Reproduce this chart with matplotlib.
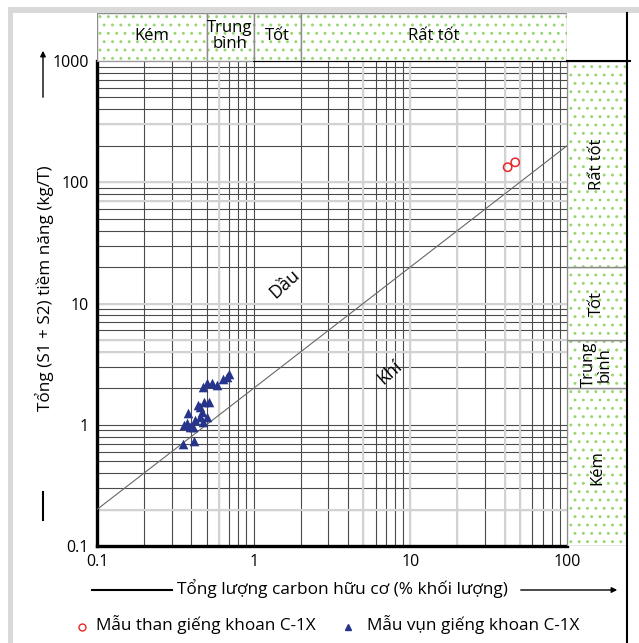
import numpy as np
import matplotlib.pyplot as plt
from matplotlib.patches import Rectangle
from matplotlib.lines import Line2D

plt.rcParams['font.family'] = ['Open Sans', 'DejaVu Sans']
plt.rcParams['hatch.linewidth'] = 0.9

# sample data (TOC %wt, S1+S2 kg/T)
coal_toc = [41.8, 46.7]
coal_s = [133, 146]

cut_toc = [0.356, 0.418, 0.373, 0.392, 0.379, 0.422, 0.454, 0.466, 0.454, 0.482,
           0.521, 0.441, 0.477, 0.501, 0.540, 0.586, 0.634, 0.673, 0.692,
           0.361, 0.412, 0.477, 0.501]
cut_s = [0.70, 0.735, 1.03, 0.964, 1.26, 1.094, 1.165, 1.28, 1.41, 1.55,
         1.55, 1.455, 2.06, 2.20, 2.20, 2.12, 2.37, 2.49, 2.61,
         0.995, 0.964, 1.06, 1.165]

# classification bands
toc_edges = [0.1, 0.5, 1, 2, 100]
toc_names = ['Kém', 'Trung\nbình', 'Tốt', 'Rất tốt']
pot_edges = [0.1, 2, 5, 20, 1000]
pot_names = ['Kém', 'Trung\nbình', 'Tốt', 'Rất tốt']

# oil / gas boundary line  S = 2 * TOC
line_toc = [0.1, 100]
line_s = [0.2, 200]

light_x = [0.6, 5, 10, 20, 40, 50]
light_y = [0.2, 4, 5, 10, 70, 100, 300]

W, H = 639, 643
fig = plt.figure(figsize=(W / 100, H / 100), dpi=100)

def box(x0, y0, x1, y1):
    # pixel box (top-left origin) -> figure fraction rect
    return [x0 / W, 1 - y1 / H, (x1 - x0) / W, (y1 - y0) / H]

def band(axb, xy, w, h):
    # dotted green fill + grey outline
    axb.add_patch(Rectangle(xy, w, h, facecolor='white', edgecolor='#97d672',
                            hatch='..', lw=0))
    axb.add_patch(Rectangle(xy, w, h, facecolor='none', edgecolor='#8c8c8c', lw=1.0))

ax = fig.add_axes(box(97, 61, 567, 546))
ax.set_xscale('log')
ax.set_yscale('log')
ax.set_xlim(0.1, 100)
ax.set_ylim(0.1, 1000)
ax.grid(which='both', color='#4a4a4a', lw=0.8)
for v in light_x:
    ax.axvline(v, color='#d2d2d2', lw=1.5, zorder=1)
for v in light_y:
    ax.axhline(v, color='#d2d2d2', lw=1.5, zorder=1)
ax.set_axisbelow(True)
ax.set_xticks([0.1, 1, 10, 100], ['0.1', '1', '10', '100'])
ax.set_yticks([0.1, 1, 10, 100, 1000], ['0.1', '1', '10', '100', '1000'])
ax.minorticks_on()
ax.tick_params(which='both', length=0, labelsize=11.5, pad=6)
ax.xaxis.set_minor_formatter(plt.NullFormatter())
ax.yaxis.set_minor_formatter(plt.NullFormatter())
ax.spines['left'].set_linewidth(2.4)
ax.spines['bottom'].set_linewidth(2.4)
ax.spines['top'].set_color('#9a9a9a')
ax.spines['right'].set_color('#9a9a9a')
ax.plot([1, 100], [1000, 1000], color='black', lw=1.5, clip_on=False, zorder=5)

ax.plot(line_toc, line_s, color='#666666', lw=0.8, zorder=3)
ax.scatter(coal_toc, coal_s, s=36, facecolors='none', edgecolors='#e8262a', lw=1.1, zorder=4)
ax.scatter(cut_toc, cut_s, s=48, marker='^', color='#27348b', lw=0, zorder=4)

ax.text(1.58, 14.5, 'Dầu', rotation=42, fontsize=13, ha='center', va='center')
ax.text(7.4, 2.7, 'Khí', rotation=42, fontsize=13, ha='center', va='center')

# top classification band
axt = fig.add_axes(box(97, 13, 567, 61))
axt.set_xscale('log')
axt.set_xlim(0.1, 100)
axt.set_ylim(0, 1)
axt.axis('off')
for i, name in enumerate(toc_names):
    a, b = toc_edges[i], toc_edges[i + 1]
    band(axt, (a, 0), b - a, 1)
    axt.text(np.sqrt(a * b), 0.52, name, ha='center', va='center', fontsize=12,
             linespacing=1.0)

# right classification band
axr = fig.add_axes(box(567, 61, 627, 546))
axr.set_yscale('log')
axr.set_ylim(0.1, 1000)
axr.set_xlim(0, 1)
axr.axis('off')
for i, name in enumerate(pot_names):
    a, b = pot_edges[i], pot_edges[i + 1]
    band(axr, (0, a), 1, b - a)
    axr.text(0.5, np.sqrt(a * b), name, ha='center', va='center', fontsize=12,
             rotation=90, linespacing=1.0)

# frame
fig.patches.append(Rectangle((8 / W, 1 - 13 / H), 1 - 8 / W, 6 / H, transform=fig.transFigure,
                             color='#d9d9d9', lw=0))
fig.patches.append(Rectangle((8 / W, 0), 5 / W, 1 - 7 / H, transform=fig.transFigure,
                             color='#d9d9d9', lw=0))
fig.lines.append(Line2D([627 / W, 627 / W], [0, 1 - 13 / H], transform=fig.transFigure,
                        color='black', lw=1.5))
fig.lines.append(Line2D([567 / W, 630 / W], [1 - 61 / H, 1 - 61 / H], transform=fig.transFigure,
                        color='black', lw=1.5))

# axis titles with arrows
fig.text(45 / W, 1 - 288 / H, 'Tổng (S1 + S2) tiềm năng (kg/T)', rotation=90,
         ha='center', va='center', fontsize=12.3)
fig.add_artist(Line2D([43 / W, 43 / W], [1 - 520 / H, 1 - 492 / H], transform=fig.transFigure,
                      color='black', lw=1.5))
fig.text(342 / W, 1 - 589 / H, 'Tổng lượng carbon hữu cơ (% khối lượng)',
         ha='center', va='center', fontsize=12.4)
fig.add_artist(Line2D([92 / W, 172 / W], [1 - 590 / H, 1 - 590 / H], transform=fig.transFigure,
                      color='black', lw=1.5))
ax.annotate('', xy=(43 / W, 1 - 48 / H), xytext=(43 / W, 1 - 100 / H),
            xycoords='figure fraction',
            arrowprops=dict(arrowstyle='-|>', color='black', lw=1, mutation_scale=8))
ax.annotate('', xy=(620 / W, 1 - 590 / H), xytext=(518 / W, 1 - 590 / H),
            xycoords='figure fraction',
            arrowprops=dict(arrowstyle='-|>', color='black', lw=1, mutation_scale=8))

# legend
fig.add_artist(Line2D([82 / W], [1 - 627 / H], marker='o', markersize=5, markerfacecolor='none',
                      markeredgecolor='#e8262a', lw=0, transform=fig.transFigure))
fig.text(96 / W, 1 - 625 / H, 'Mẫu than giếng khoan C-1X', ha='left', va='center', fontsize=12.3)
fig.add_artist(Line2D([348 / W], [1 - 627 / H], marker='^', markersize=5, color='#27348b',
                      lw=0, transform=fig.transFigure))
fig.text(367 / W, 1 - 625 / H, 'Mẫu vụn giếng khoan C-1X', ha='left', va='center', fontsize=12.3)

fig.savefig('out.png', dpi=100)
